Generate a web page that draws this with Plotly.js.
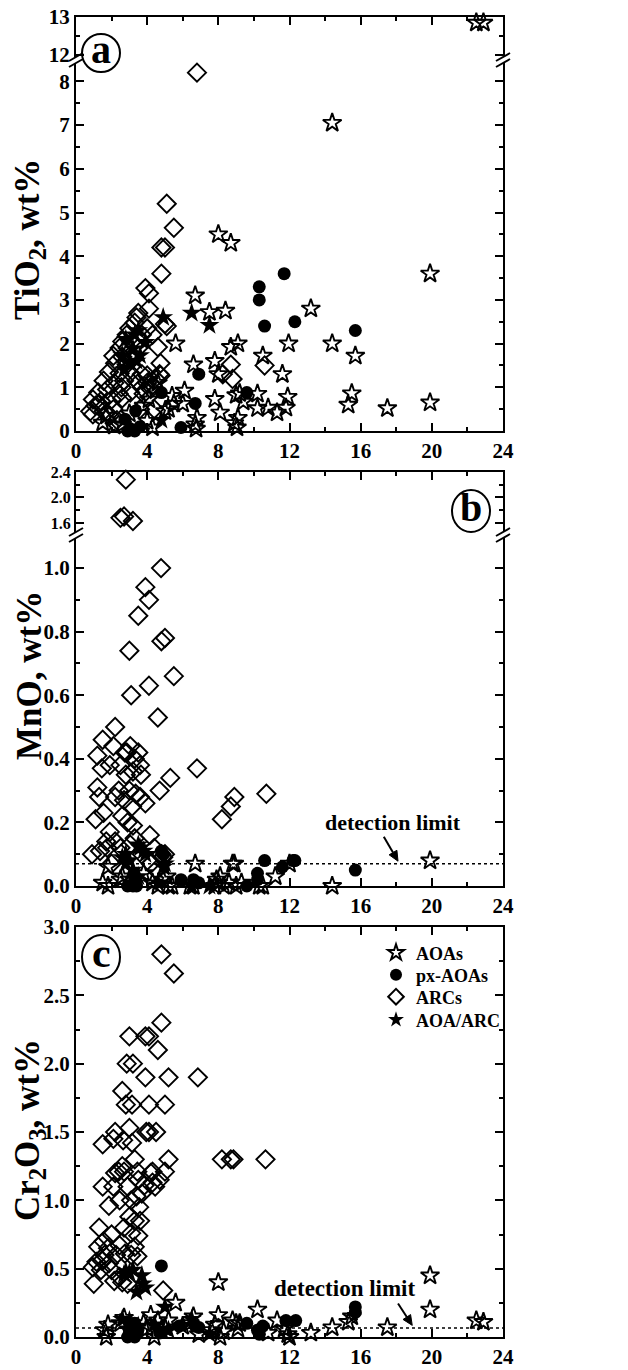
<!DOCTYPE html>
<html><head><meta charset="utf-8">
<script src="https://cdn.plot.ly/plotly-3.0.1.min.js"></script>
<style>html,body{margin:0;padding:0;background:#fff}#plot{width:628px;height:1370px}</style>
</head><body><div id="plot"></div>
<script>
// ---------- DATA ----------
// Panel (a) TiO2
const aAOA_x = [22.5,22.9,14.4,8.0,8.7,19.9,6.7,7.5,8.4,13.2,5.6,8.7,9.1,11.95,14.4,10.5,15.7,6.6,7.8,8.0,11.6,6.1,7.8,9.0,9.2,9.4,10.2,11.9,15.5,15.3,17.5,19.9,8.1,10.2,10.8,11.3,11.8,9.1,8.9,9.05,6.8,6.7,6.75,5.4,5.5,5.2,6.0,4.1,4.1,4.6,3.8,1.7,1.5,2.15,4.0,4.3,3.0,2.6,5.0];
const aAOA_y = [12.85,12.85,7.05,4.5,4.3,3.6,3.1,2.72,2.75,2.8,2.0,1.92,2.0,2.0,2.0,1.72,1.72,1.52,1.6,1.3,1.3,0.92,0.73,0.82,0.86,0.67,0.85,0.78,0.86,0.6,0.52,0.65,0.42,0.52,0.53,0.42,0.53,0.3,0.18,0.08,0.3,0.15,0.05,0.8,0.62,0.5,0.62,0.72,1.15,1.1,0.58,0.35,0.19,0.12,0.23,0.08,0.4,0.15,0.45];
const aPX_x = [11.7,10.3,10.3,10.6,12.3,15.7,6.9,9.6,6.7,5.9,4.8,3.35,2.75,3.05,3.3,3.6,2.9];
const aPX_y = [3.6,3.3,3.0,2.4,2.5,2.3,1.3,0.88,0.63,0.08,0.88,0.46,0.27,0.05,0.0,0.1,0.0];
const aARC_x = [6.8,5.1,5.5,4.8,5.0,4.8,3.9,4.1,4.1,3.5,3.4,3.3,3.0,4.0,4.3,4.6,3.7,2.85,2.6,3.15,2.45,2.9,3.5,2.1,2.6,3.2,2.2,2.85,4.75,1.85,2.45,3.05,3.7,4.75,4.45,1.55,2.15,2.7,3.4,4.0,4.3,1.25,1.75,2.4,3.05,0.95,1.4,2.0,2.6,1.1,0.8,1.55,2.1,0.95,2.55,3.7,3.8,4.0,4.2,8.7,8.25,8.8,10.6,5.0,5.1,1.3,2.3,1.9,3.6,4.4,4.7];
const aARC_y = [8.2,5.2,4.65,4.2,4.2,3.6,3.27,3.15,2.8,2.7,2.6,2.48,2.35,2.35,2.2,1.92,2.2,2.2,2.05,2.05,1.9,1.9,1.9,1.72,1.7,1.72,1.55,1.52,1.55,1.35,1.32,1.33,1.3,1.27,1.2,1.15,1.1,1.15,1.15,1.1,1.05,0.88,0.95,0.85,0.88,0.72,0.68,0.72,0.75,0.58,0.45,0.45,0.5,0.38,1.0,1.0,0.85,1.27,0.96,1.52,1.3,1.19,1.5,2.45,2.4,0.62,0.25,0.35,0.5,0.5,1.3];
const aMIX_x = [4.9,6.5,7.5,2.8,3.5,3.9,3.6,3.4,2.6,3.2,2.7,4.8,3.0,3.3];
const aMIX_y = [2.6,2.7,2.42,2.1,2.3,2.03,1.73,1.6,1.73,1.88,1.4,0.25,1.55,2.2];

// Panel (b) MnO
const bAOA_x = [1.5,1.8,1.8,2.5,3.8,4.6,4.9,5.2,5.4,6.7,6.6,7.9,8.0,8.3,8.6,8.8,8.9,9.3,10.5,11.2,12.0,14.4,19.9,7.8,6.4,4.3,3.0,2.6,5.1,8.1,9.0,10.3];
const bAOA_y = [0.01,0.0,0.06,0.02,0.04,0.0,0.02,0.0,0.0,0.07,0.0,0.02,0.01,0.0,0.01,0.07,0.07,0.01,0.0,0.03,0.07,0.0,0.08,0.0,0.0,0.01,0.02,0.03,0.03,0.03,0.0,0.0];
const bPX_x = [4.8,2.9,3.2,3.4,3.3,5.9,6.6,6.9,9.6,10.2,10.2,10.6,11.6,12.2,12.3,15.7,4.9];
const bPX_y = [0.11,0.0,0.0,0.0,0.02,0.02,0.02,0.01,0.0,0.02,0.04,0.08,0.06,0.08,0.08,0.05,0.1];
const bARC_x = [2.8,2.5,2.7,3.2,4.78,3.9,4.1,3.5,4.8,5.0,3.0,5.5,4.1,3.1,4.6,2.2,6.8,5.3,4.7,8.9,8.7,8.2,10.7,1.5,1.2,2.1,1.9,1.45,3.05,3.5,2.75,3.3,3.6,2.5,2.8,3.2,1.2,1.3,1.1,1.55,0.9,1.35,1.9,2.2,2.7,3.15,3.35,3.9,4.15,2.4,2.9,3.0,3.6,2.6,3.2,2.2,1.75,2.5,3.05,3.7,4.4,4.8,5.0,4.2,2.0,3.3,2.85,3.65,1.7,4.5,4.9];
const bARC_y = [2.28,1.68,1.7,1.63,1.0,0.94,0.9,0.85,0.77,0.78,0.74,0.66,0.63,0.6,0.53,0.5,0.37,0.34,0.3,0.28,0.25,0.21,0.29,0.46,0.41,0.44,0.38,0.37,0.44,0.42,0.42,0.4,0.38,0.38,0.35,0.36,0.31,0.28,0.21,0.23,0.1,0.11,0.17,0.14,0.27,0.25,0.29,0.26,0.16,0.3,0.2,0.3,0.28,0.22,0.19,0.28,0.12,0.12,0.13,0.1,0.12,0.1,0.1,0.07,0.07,0.15,0.42,0.35,0.14,0.05,0.09];
const bMIX_x = [2.8,3.0,2.6,3.5,3.6,3.8,4.9,5.0,3.2,3.5,4.6,2.8,3.9,6.5,7.5];
const bMIX_y = [0.1,0.08,0.09,0.13,0.12,0.11,0.06,0.07,0.05,0.03,0.01,0.07,0.1,0.0,0.0];

// Panel (c) Cr2O3
const cAOA_x = [8.0,19.9,19.9,22.5,22.9,17.5,14.4,15.3,15.5,13.2,11.3,10.2,8.0,8.8,9.0,9.2,7.8,8.1,8.3,6.6,6.4,5.6,5.2,4.6,4.2,4.0,1.6,1.7,1.8,2.5,2.7,4.8,10.8,11.7,11.9,12.0,5.0,9.1,7.6,6.0,6.9,3.8,4.4];
const cAOA_y = [0.4,0.45,0.2,0.12,0.11,0.07,0.07,0.11,0.15,0.03,0.12,0.2,0.16,0.12,0.1,0.1,0.09,0.0,0.04,0.15,0.1,0.25,0.12,0.12,0.16,0.06,0.05,0.0,0.09,0.1,0.14,0.05,0.03,0.06,0.02,0.0,0.07,0.06,0.05,0.08,0.02,0.1,0.0];
const cPX_x = [4.8,15.7,15.7,12.35,11.8,9.6,10.5,10.2,10.3,5.8,6.7,6.9,2.9,3.3,3.3,3.0,3.4,4.7];
const cPX_y = [0.52,0.22,0.18,0.12,0.12,0.1,0.08,0.05,0.02,0.08,0.08,0.07,0.0,0.0,0.1,0.05,0.03,0.03];
const cARC_x = [4.8,5.5,4.8,3.0,3.9,4.1,4.6,2.85,3.2,3.9,5.2,6.85,2.6,2.8,3.15,4.1,5.0,2.2,3.0,3.95,4.1,4.5,2.65,1.5,3.15,2.1,8.2,8.7,8.85,10.65,1.5,2.1,2.45,1.85,3.1,3.4,3.55,3.0,3.3,1.3,2.7,3.1,3.5,1.55,1.25,1.8,2.45,3.3,2.25,2.75,3.1,3.45,1.15,1.45,1.85,0.95,1.4,2.0,2.45,2.15,1.0,2.6,2.9,4.9,2.4,2.7,3.45,4.3,5.0,3.85,4.3,4.7,4.45,5.2,3.3,2.2,4.2,3.5,2.6,1.6,2.0,3.6,2.9,3.7];
const cARC_y = [2.8,2.66,2.3,2.2,2.2,2.2,2.1,2.0,2.0,1.9,1.9,1.9,1.8,1.7,1.7,1.7,1.7,1.5,1.53,1.5,1.5,1.5,1.44,1.41,1.42,1.45,1.3,1.3,1.3,1.3,1.1,1.1,1.0,0.96,1.0,1.03,0.95,0.88,0.85,0.8,0.8,0.76,0.74,0.7,0.66,0.65,0.67,0.66,0.6,0.61,0.6,0.59,0.55,0.56,0.54,0.51,0.49,0.49,0.44,0.41,0.39,0.4,0.39,0.34,1.21,1.21,1.21,1.21,1.21,1.11,1.13,1.15,1.1,1.3,1.3,1.2,1.2,1.15,1.25,0.6,0.75,0.85,1.1,1.05];
const cMIX_x = [2.7,3.0,3.2,3.7,3.75,3.4,3.9,5.0,2.6,3.0,6.5,4.4,3.5,2.8,2.9,7.5,5.2];
const cMIX_y = [0.46,0.47,0.49,0.45,0.39,0.33,0.36,0.22,0.13,0.12,0.13,0.09,0.08,0.48,0.06,0.02,0.05];

const xTicks = [0,4,8,12,16,20,24];
const seriesNames = ['AOAs','px-AOAs','ARCs','AOA/ARC'];
const detLimitB = 0.07, detLimitC = 0.065;
const arrowB = {x0:17.3, y0:0.155, x1:18.1, y1:0.078};
const arrowC = {x0:18.1, y0:0.245, x1:18.9, y1:0.085};

// ---------- LAYOUT HELPERS ----------
const H = 1370, PL = 76, PR = 503;
const yp = py => 1 - py / H;
const xp = px => (px - PL) / (PR - PL);
const FONT = 'Liberation Serif, Times New Roman, serif';

const styles = {
  AOAs:     {symbol:'star-open', size:14, color:'#000', line:{width:1.9,color:'#000'}},
  'px-AOAs':{symbol:'circle', size:13, color:'#000', line:{width:0,color:'#000'}},
  ARCs:     {symbol:'diamond-open', size:14, color:'#000', line:{width:1.9,color:'#000'}},
  'AOA/ARC':{symbol:'star', size:15, color:'#000', line:{width:0,color:'#000'}}
};
const legendOf = {AOAs:'legend','px-AOAs':'legend2',ARCs:'legend3','AOA/ARC':'legend4'};

function mk(name, xs, ys, xa, ya, showleg) {
  return {type:'scatter', mode:'markers', name:name, x:xs, y:ys, xaxis:xa, yaxis:ya,
    marker:styles[name], cliponaxis:false, showlegend:!!showleg, legend:legendOf[name], hoverinfo:'skip'};
}
function split(xs, ys, thr) {
  const lo={x:[],y:[]}, hi={x:[],y:[]};
  xs.forEach((v,i)=>{ const t = ys[i] > thr ? hi : lo; t.x.push(v); t.y.push(ys[i]); });
  return [lo,hi];
}

// pixel geometry of the panels
const A = {bot:431, brk:60, top:17};
const B = {bot:886, brk:535, top:472};
const C = {bot:1337, top:927};
const aTop = 8.49, bTop = 1.104, cTop = 3.0;

const traces = [];
[['ARCs',aARC_x,aARC_y],['AOAs',aAOA_x,aAOA_y],['px-AOAs',aPX_x,aPX_y],['AOA/ARC',aMIX_x,aMIX_y]].forEach(([n,xs,ys])=>{
  const [lo,hi]=split(xs,ys,aTop);
  traces.push(mk(n,lo.x,lo.y,'x','y'));
  if (hi.x.length) traces.push(mk(n,hi.x,hi.y,'x2','y2'));
});
[['ARCs',bARC_x,bARC_y],['AOAs',bAOA_x,bAOA_y],['px-AOAs',bPX_x,bPX_y],['AOA/ARC',bMIX_x,bMIX_y]].forEach(([n,xs,ys])=>{
  const [lo,hi]=split(xs,ys,bTop);
  traces.push(mk(n,lo.x,lo.y,'x3','y3'));
  if (hi.x.length) traces.push(mk(n,hi.x,hi.y,'x4','y4'));
});
[['ARCs',cARC_x,cARC_y],['AOAs',cAOA_x,cAOA_y],['px-AOAs',cPX_x,cPX_y],['AOA/ARC',cMIX_x,cMIX_y]].forEach(([n,xs,ys])=>{
  traces.push(mk(n,xs,ys,'x5','y5',true));
});

const tickFont = {family:FONT, size:20, color:'#000', weight:'bold'};
function xAxis(anchor, side, labels, extra) {
  return Object.assign({anchor:anchor, side:side, range:[0,24], tickvals:xTicks, ticktext:xTicks.map(String),
    showticklabels:labels, ticks:'inside', ticklen:8, tickwidth:2, tickcolor:'#000',
    minor:{ticks:'inside', dtick:2, tick0:0, ticklen:4, tickwidth:2, tickcolor:'#000'},
    showline:true, linewidth:2, linecolor:'#000', showgrid:false, zeroline:false,
    tickfont:Object.assign({}, tickFont, {size:21}), fixedrange:true}, extra||{});
}
function yAxis(anchor, dom, range, dtick, mdtick, fmt, fsize) {
  return {anchor:anchor, domain:dom, range:range, dtick:dtick, tick0:0, tickformat:fmt,
    ticks:'inside', ticklen:8, tickwidth:2, tickcolor:'#000',
    minor:{ticks:'inside', dtick:mdtick, tick0:0, ticklen:4, tickwidth:2, tickcolor:'#000'},
    showline:true, linewidth:2, linecolor:'#000', mirror:'ticks', showgrid:false, zeroline:false,
    tickfont:Object.assign({}, tickFont, {size:fsize||21}), fixedrange:true};
}

const shapes = [];
function brk(px, py) {
  shapes.push({type:'rect', xref:'paper', yref:'paper', x0:xp(px-6), x1:xp(px+6), y0:yp(py+3), y1:yp(py-3),
    fillcolor:'#fff', line:{width:0}, layer:'above'});
  [-3,3].forEach(d=>shapes.push({type:'line', xref:'paper', yref:'paper',
    x0:xp(px-7), y0:yp(py+d+4), x1:xp(px+7), y1:yp(py+d-4), line:{color:'#000', width:2}, layer:'above'}));
}
brk(PL,A.brk); brk(PR,A.brk); brk(PL,B.brk); brk(PR,B.brk);
shapes.push({type:'line', xref:'x3', yref:'y3', x0:0, x1:24, y0:detLimitB, y1:detLimitB, line:{color:'#000', width:1.5, dash:'dot'}});
shapes.push({type:'line', xref:'x5', yref:'y5', x0:0, x1:24, y0:detLimitC, y1:detLimitC, line:{color:'#000', width:1.5, dash:'dot'}});

function arrow(a, bot, top, ymax) {
  const X = v => PL + (PR-PL)*v/24, Y = v => bot - (bot-top)*v/ymax;
  const x0=X(a.x0), y0=Y(a.y0), x1=X(a.x1), y1=Y(a.y1);
  const dx=x1-x0, dy=y1-y0, L=Math.hypot(dx,dy), ux=dx/L, uy=dy/L, hl=10, hw=4.5;
  const bx=x1-ux*hl, by=y1-uy*hl;
  shapes.push({type:'line', xref:'paper', yref:'paper', x0:xp(x0), y0:yp(y0), x1:xp(bx), y1:yp(by), line:{color:'#000', width:2}});
  const p = [[x1,y1],[bx-uy*hw,by+ux*hw],[bx+uy*hw,by-ux*hw]].map(q=>xp(q[0])+','+yp(q[1]));
  shapes.push({type:'path', xref:'paper', yref:'paper', path:'M'+p[0]+' L'+p[1]+' L'+p[2]+' Z', fillcolor:'#000', line:{color:'#000', width:1}});
}
arrow(arrowB, B.bot, B.brk, bTop);
arrow(arrowC, C.bot, C.top, cTop);

function circ(cx, cy, rx, ry) {
  shapes.push({type:'circle', xref:'paper', yref:'paper', x0:xp(cx-rx), x1:xp(cx+rx), y0:yp(cy+ry), y1:yp(cy-ry),
    line:{color:'#000', width:2}, fillcolor:'rgba(0,0,0,0)'});
}
circ(101,53,19,19); circ(471,511,19,21); circ(101,957,19,22);

const ann = [];
function txt(px, py, t, size, angle) {
  ann.push({xref:'paper', yref:'paper', x:xp(px), y:yp(py), text:t, showarrow:false, textangle:angle||0,
    xanchor:'center', yanchor:'middle', font:{family:FONT, size:size, color:'#000', weight:'bold'}});
}
txt(101,50,'a',40); txt(471,508,'b',40); txt(101,953,'c',42);
txt(29,240,'TiO<sub>2</sub>, wt%',35,-90);
txt(29,676,'MnO, wt%',35,-90);
txt(29,1130,'Cr<sub>2</sub>O<sub>3</sub>, wt%',35,-90);
ann.push({xref:'x3', yref:'y3', x:17.8, y:0.2, text:'detection limit', showarrow:false,
  font:{family:FONT, size:22, color:'#000', weight:'bold'}});
ann.push({xref:'x5', yref:'y5', x:15.1, y:0.355, text:'detection limit', showarrow:false,
  font:{family:FONT, size:23, color:'#000', weight:'bold'}});

function leg(py) {
  return {x:xp(376), y:yp(py), xanchor:'left', yanchor:'middle', bgcolor:'rgba(0,0,0,0)', borderwidth:0,
    font:{family:FONT, size:18, color:'#000', weight:'bold'}, itemwidth:30, itemsizing:'constant'};
}

const layout = {
  width:628, height:1370, margin:{l:PL, r:628-PR, t:0, b:0}, paper_bgcolor:'#fff', plot_bgcolor:'rgba(0,0,0,0)',
  font:{family:FONT, color:'#000'},
  xaxis: xAxis('y','bottom',true),
  xaxis2: xAxis('y2','top',false,{matches:'x'}),
  xaxis3: xAxis('y3','bottom',true),
  xaxis4: xAxis('y4','top',false,{matches:'x3'}),
  xaxis5: xAxis('y5','bottom',true,{mirror:'ticks'}),
  yaxis:  yAxis('x',  [yp(A.bot), yp(A.brk)], [0, aTop], 1, 0.5, 'd'),
  yaxis2: yAxis('x2', [yp(A.brk), yp(A.top)], [11.87, 13.0], 1, 0.5, 'd'),
  yaxis3: yAxis('x3', [yp(B.bot), yp(B.brk)], [0, bTop], 0.2, 0.1, '.1f'),
  yaxis4: yAxis('x4', [yp(B.brk), yp(B.top)], [1.41, 2.4], 0.4, 0.2, '.1f', 16),
  yaxis5: yAxis('x5', [yp(C.bot), yp(C.top)], [0, cTop], 0.5, 0.25, '.1f'),
  shapes: shapes, annotations: ann,
  showlegend:true,
  legend: leg(953), legend2: leg(975), legend3: leg(997), legend4: leg(1020)
};
Plotly.newPlot('plot', traces, layout, {staticPlot:true, displayModeBar:false});
</script></body></html>
